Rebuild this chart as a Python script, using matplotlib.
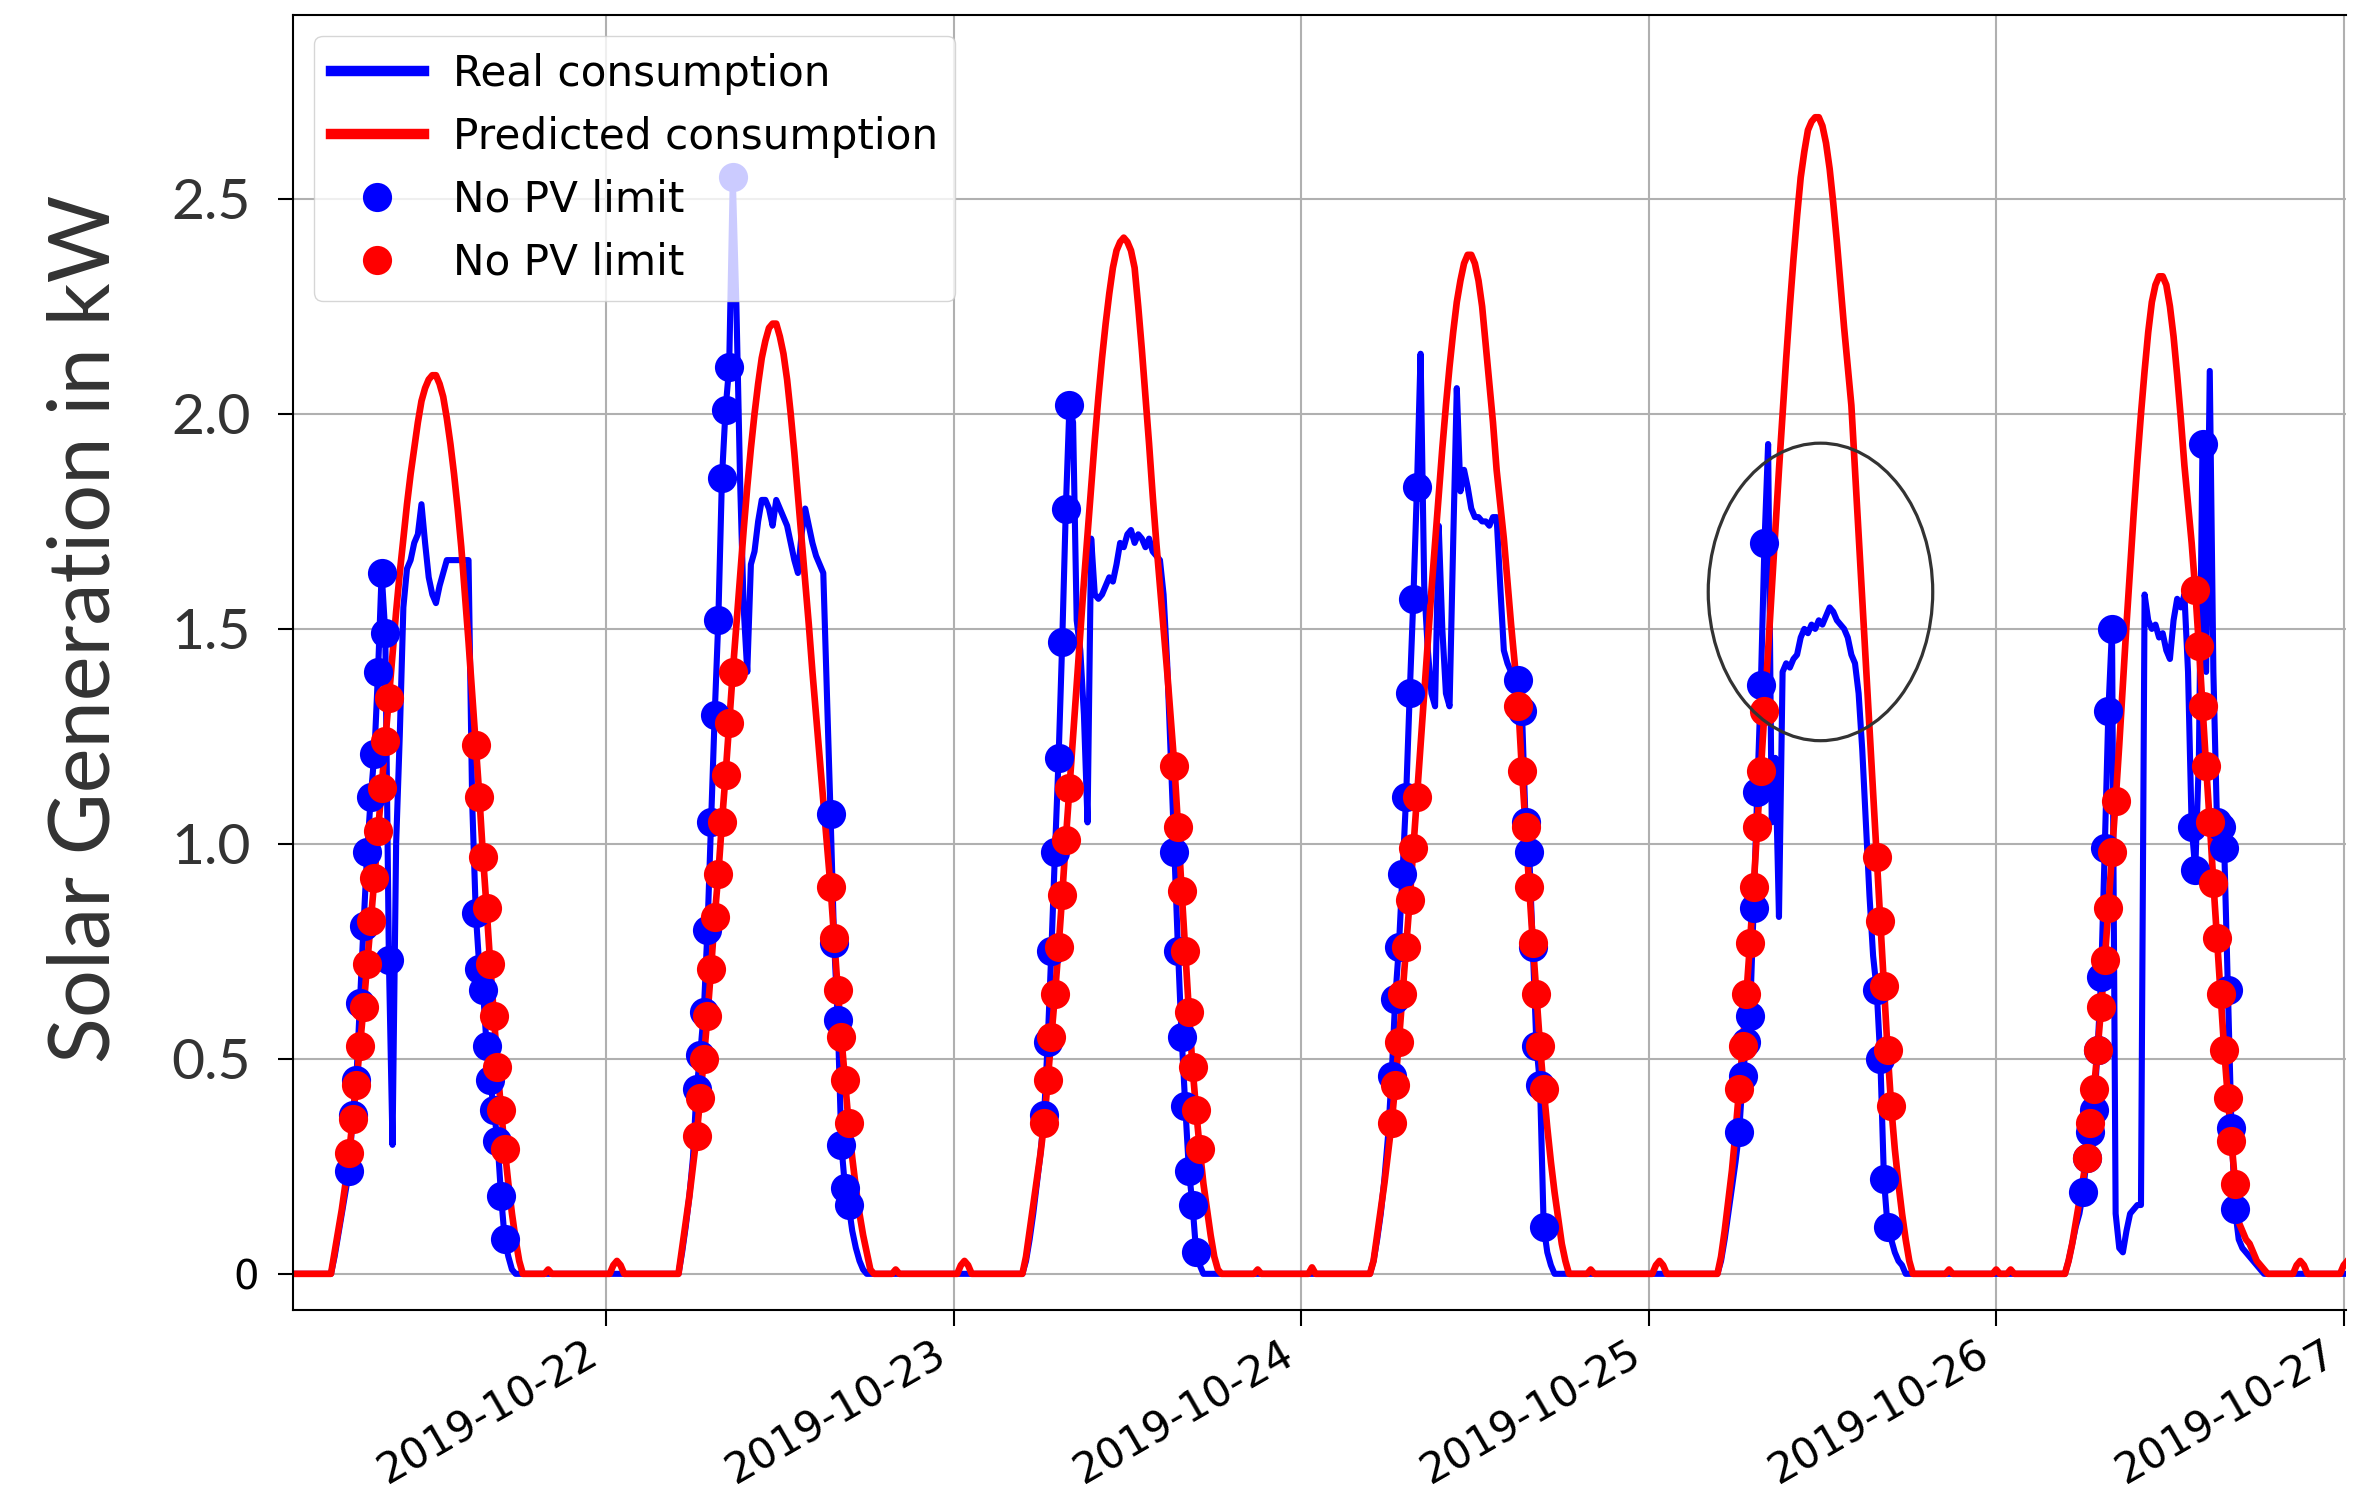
import pandas as pd
import numpy as np
import matplotlib
matplotlib.use('Agg')
import matplotlib.pyplot as plt
import matplotlib.dates as mdates
from matplotlib.patches import Ellipse

# ---- data (kW, 15 min steps starting 04:45 each day) ----
days = ['2019-10-21', '2019-10-22', '2019-10-23', '2019-10-24', '2019-10-25', '2019-10-26']
first_sample = '04:45'

real_21 = [0.00,
           0.00, 0.04, 0.09, 0.14,   # 05h
           0.19, 0.24, 0.37, 0.45,   # 06h
           0.63, 0.81, 0.98, 1.11,   # 07h
           1.21, 1.40, 1.63, 1.49,   # 08h
           0.73, 0.30, 1.00, 1.25,   # 09h
           1.55, 1.64, 1.66, 1.70,   # 10h
           1.72, 1.79, 1.70, 1.62,   # 11h
           1.58, 1.56, 1.60, 1.63,   # 12h
           1.66, 1.66, 1.66, 1.66,   # 13h
           1.66, 1.66, 1.66, 1.10,   # 14h
           0.84, 0.71, 0.66, 0.53,   # 15h
           0.45, 0.38, 0.31, 0.18,   # 16h
           0.08, 0.04, 0.01, 0.00,   # 17h
           0.00, 0.00, 0.00, 0.00]   # 18h
pred_21 = [0.00,
           0.00, 0.05, 0.10, 0.15,
           0.21, 0.28, 0.36, 0.44,
           0.53, 0.62, 0.72, 0.82,
           0.92, 1.03, 1.13, 1.24,
           1.34, 1.44, 1.54, 1.63,
           1.71, 1.79, 1.86, 1.92,
           1.98, 2.03, 2.06, 2.08,
           2.09, 2.09, 2.07, 2.04,
           1.99, 1.93, 1.86, 1.78,
           1.69, 1.58, 1.47, 1.35,
           1.23, 1.11, 0.97, 0.85,
           0.72, 0.60, 0.48, 0.38,
           0.29, 0.21, 0.14, 0.08,
           0.03, 0.00, 0.00, 0.00]

real_22 = [0.00,
           0.00, 0.05, 0.11, 0.18,
           0.27, 0.43, 0.51, 0.61,
           0.80, 1.05, 1.30, 1.52,
           1.85, 2.01, 2.11, 2.55,
           2.25, 1.85, 1.55, 1.40,
           1.65, 1.68, 1.75, 1.80,
           1.80, 1.78, 1.74, 1.80,
           1.78, 1.76, 1.74, 1.70,
           1.66, 1.63, 1.72, 1.78,
           1.74, 1.70, 1.67, 1.65,
           1.63, 1.35, 1.07, 0.77,
           0.59, 0.30, 0.20, 0.16,
           0.10, 0.06, 0.03, 0.01,
           0.00, 0.00, 0.00, 0.00]
pred_22 = [0.00,
           0.00, 0.06, 0.12, 0.18,
           0.25, 0.32, 0.41, 0.50,
           0.60, 0.71, 0.83, 0.93,
           1.05, 1.16, 1.28, 1.40,
           1.51, 1.62, 1.73, 1.83,
           1.92, 2.00, 2.07, 2.13,
           2.17, 2.20, 2.21, 2.21,
           2.18, 2.14, 2.08, 2.00,
           1.91, 1.81, 1.71, 1.61,
           1.51, 1.40, 1.30, 1.20,
           1.10, 1.00, 0.90, 0.78,
           0.66, 0.55, 0.45, 0.35,
           0.27, 0.20, 0.14, 0.09,
           0.05, 0.01, 0.00, 0.00]

real_23 = [0.00,
           0.03, 0.08, 0.14, 0.21,
           0.28, 0.37, 0.54, 0.75,
           0.98, 1.20, 1.47, 1.78,
           2.02, 1.98, 1.52, 1.45,
           1.30, 1.05, 1.71, 1.58,
           1.57, 1.58, 1.60, 1.62,
           1.61, 1.65, 1.70, 1.69,
           1.72, 1.73, 1.70, 1.72,
           1.71, 1.69, 1.71, 1.68,
           1.67, 1.66, 1.58, 1.42,
           1.20, 0.98, 0.75, 0.55,
           0.39, 0.24, 0.16, 0.05,
           0.02, 0.00, 0.00, 0.00,
           0.00, 0.00, 0.00, 0.00]
pred_23 = [0.00,
           0.04, 0.10, 0.16, 0.22,
           0.28, 0.35, 0.45, 0.55,
           0.65, 0.76, 0.88, 1.01,
           1.13, 1.25, 1.37, 1.49,
           1.61, 1.72, 1.83, 1.94,
           2.04, 2.13, 2.21, 2.28,
           2.34, 2.38, 2.40, 2.41,
           2.40, 2.38, 2.34, 2.25,
           2.15, 2.04, 1.93, 1.81,
           1.70, 1.60, 1.50, 1.40,
           1.29, 1.18, 1.04, 0.89,
           0.75, 0.61, 0.48, 0.38,
           0.29, 0.21, 0.15, 0.09,
           0.04, 0.01, 0.00, 0.00]

real_24 = [0.00,
           0.03, 0.08, 0.14, 0.22,
           0.32, 0.46, 0.64, 0.76,
           0.93, 1.11, 1.35, 1.57,
           1.83, 2.14, 1.60, 1.45,
           1.35, 1.32, 1.74, 1.50,
           1.35, 1.32, 1.70, 2.06,
           1.82, 1.87, 1.83, 1.78,
           1.76, 1.76, 1.75, 1.75,
           1.74, 1.76, 1.76, 1.60,
           1.45, 1.42, 1.40, 1.39,
           1.38, 1.31, 1.05, 0.98,
           0.76, 0.53, 0.44, 0.11,
           0.05, 0.02, 0.00, 0.00,
           0.00, 0.00, 0.00, 0.00]
pred_24 = [0.00,
           0.03, 0.09, 0.15, 0.21,
           0.28, 0.35, 0.44, 0.54,
           0.65, 0.76, 0.87, 0.99,
           1.11, 1.23, 1.35, 1.47,
           1.59, 1.70, 1.81, 1.92,
           2.02, 2.11, 2.19, 2.26,
           2.31, 2.35, 2.37, 2.37,
           2.35, 2.31, 2.25, 2.16,
           2.07, 1.98, 1.87, 1.79,
           1.71, 1.61, 1.51, 1.42,
           1.32, 1.17, 1.04, 0.90,
           0.77, 0.65, 0.53, 0.43,
           0.34, 0.26, 0.19, 0.13,
           0.07, 0.03, 0.00, 0.00]

real_25 = [0.00,
           0.03, 0.08, 0.14, 0.20,
           0.26, 0.33, 0.46, 0.54,
           0.60, 0.85, 1.12, 1.37,
           1.70, 1.93, 1.05, 1.20,
           0.83, 1.40, 1.42, 1.41,
           1.43, 1.44, 1.48, 1.50,
           1.49, 1.51, 1.50, 1.52,
           1.51, 1.53, 1.55, 1.54,
           1.52, 1.51, 1.50, 1.48,
           1.44, 1.42, 1.35, 1.22,
           1.05, 0.88, 0.74, 0.66,
           0.50, 0.22, 0.11, 0.08,
           0.05, 0.03, 0.02, 0.00,
           0.00, 0.00, 0.00, 0.00]
pred_25 = [0.00,
           0.04, 0.10, 0.17, 0.24,
           0.33, 0.43, 0.53, 0.65,
           0.77, 0.90, 1.04, 1.17,
           1.31, 1.45, 1.59, 1.73,
           1.87, 2.00, 2.13, 2.25,
           2.36, 2.46, 2.55, 2.61,
           2.66, 2.68, 2.69, 2.69,
           2.67, 2.63, 2.57, 2.49,
           2.40, 2.30, 2.20, 2.11,
           2.02, 1.87, 1.72, 1.57,
           1.42, 1.27, 1.12, 0.97,
           0.82, 0.67, 0.52, 0.39,
           0.29, 0.21, 0.14, 0.08,
           0.03, 0.00, 0.00, 0.00]

real_26 = [0.00,
           0.03, 0.07, 0.11, 0.14,
           0.19, 0.27, 0.33, 0.38,
           0.52, 0.69, 0.99, 1.31,
           1.50, 0.14, 0.06, 0.05,
           0.10, 0.14, 0.15, 0.16,
           0.16, 1.58, 1.52, 1.50,
           1.51, 1.48, 1.49, 1.45,
           1.43, 1.52, 1.57, 1.55,
           1.58, 1.40, 1.04, 0.94,
           1.20, 1.93, 1.40, 2.10,
           1.40, 1.05, 1.04, 0.99,
           0.66, 0.34, 0.15, 0.08,
           0.06, 0.05, 0.04, 0.03,
           0.02, 0.01, 0.00, 0.00]
pred_26 = [0.00,
           0.03, 0.07, 0.12, 0.17,
           0.22, 0.27, 0.35, 0.43,
           0.52, 0.62, 0.73, 0.85,
           0.98, 1.10, 1.23, 1.37,
           1.51, 1.64, 1.77, 1.89,
           2.00, 2.10, 2.19, 2.26,
           2.30, 2.32, 2.32, 2.30,
           2.25, 2.18, 2.09, 1.99,
           1.88, 1.79, 1.70, 1.59,
           1.46, 1.32, 1.18, 1.05,
           0.91, 0.78, 0.65, 0.52,
           0.41, 0.31, 0.21, 0.12,
           0.10, 0.08, 0.07, 0.05,
           0.03, 0.02, 0.01, 0.00]

real_days = [real_21, real_22, real_23, real_24, real_25, real_26]
pred_days = [pred_21, pred_22, pred_23, pred_24, pred_25, pred_26]

# small night-time wiggles of the prediction
pred_night = [('2019-10-21 20:00', 0.01),
              ('2019-10-22 00:30', 0.02), ('2019-10-22 00:45', 0.03), ('2019-10-22 01:00', 0.02),
              ('2019-10-22 20:00', 0.01),
              ('2019-10-23 00:30', 0.02), ('2019-10-23 00:45', 0.03), ('2019-10-23 01:00', 0.02),
              ('2019-10-23 21:00', 0.01), ('2019-10-24 00:45', 0.015),
              ('2019-10-24 20:00', 0.01),
              ('2019-10-25 00:30', 0.02), ('2019-10-25 00:45', 0.03), ('2019-10-25 01:00', 0.02),
              ('2019-10-25 20:45', 0.01), ('2019-10-26 00:00', 0.01), ('2019-10-26 01:00', 0.01),
              ('2019-10-26 20:45', 0.02), ('2019-10-26 21:00', 0.03), ('2019-10-26 21:15', 0.02),
              ('2019-10-27 00:00', 0.02), ('2019-10-27 00:15', 0.03)]

# time windows (per day) whose samples are marked as "No PV limit"
real_marks = [[('06:15', '09:00'), ('15:00', '17:00')],
              [('06:15', '08:45'), ('15:30', '16:45')],
              [('06:15', '08:00'), ('15:15', '16:45')],
              [('06:15', '08:00'), ('15:00', '16:45')],
              [('06:15', '08:00'), ('15:45', '16:30')],
              [('06:00', '08:00'), ('13:30', '13:45'), ('14:15', '14:15'), ('15:15', '16:30')]]
pred_marks = [[('06:15', '09:00'), ('15:00', '17:00')],
              [('06:15', '08:45'), ('15:30', '16:45')],
              [('06:15', '08:00'), ('15:15', '17:00')],
              [('06:15', '08:00'), ('15:00', '16:45')],
              [('06:15', '08:00'), ('15:45', '16:45')],
              [('06:15', '08:15'), ('13:45', '16:30')]]

ytick_vals = [0, 0.5, 1.0, 1.5, 2.0, 2.5]
ytick_labels = ['0', '0.5', '1.0', '1.5', '2.0', '2.5']


def build(day_lists, night=()):
    idx = pd.date_range('2019-10-21 02:15', '2019-10-27 00:15', freq='15min')
    s = pd.Series(0.0, index=idx)
    for day, vals in zip(days, day_lists):
        t = pd.date_range(day + ' ' + first_sample, periods=len(vals), freq='15min')
        s.loc[t] = vals
    for t, v in night:
        s.loc[pd.Timestamp(t)] = v
    return s


def marked(s, marks):
    parts = []
    for day, wins in zip(days, marks):
        for a, b in wins:
            parts.append(s.loc[day + ' ' + a: day + ' ' + b])
    return pd.concat(parts)


real = build(real_days)
pred = build(pred_days, pred_night)
real_pts = marked(real, real_marks)
pred_pts = marked(pred, pred_marks)

fig = plt.figure(figsize=(23.77, 14.94), dpi=100)
ax = fig.add_axes([0.1234, 0.1232, 0.8634, 0.8668])

ax.plot(real.index, real.values, color='blue', lw=4.4, label='Real consumption', zorder=2)
ax.plot(pred.index, pred.values, color='red', lw=4.8, label='Predicted consumption', zorder=2.1)
ax.plot(real_pts.index, real_pts.values, 'o', color='blue', ms=21, mew=0, label='No PV limit', zorder=3)
ax.plot(pred_pts.index, pred_pts.values, 'o', color='red', ms=21, mew=0, label='No PV limit', zorder=3.1)

# circled area
ax.add_patch(Ellipse((mdates.date2num(pd.Timestamp('2019-10-25 11:52')), 1.586), width=0.646, height=0.692,
                     fill=False, edgecolor='#333333', lw=2.3, zorder=4))

ax.set_xlim(pd.Timestamp('2019-10-21 02:24'), pd.Timestamp('2019-10-27 00:08'))
ax.set_ylim(-0.084, 2.928)

ax.xaxis.set_major_locator(mdates.DayLocator())
ax.xaxis.set_major_formatter(mdates.DateFormatter('%Y-%m-%d'))
ax.tick_params(axis='x', length=11.5, width=1.5, pad=5, labelsize=30.5)
plt.setp(ax.get_xticklabels(), rotation=30, ha='right')

ax.set_yticks(ytick_vals)
ylabs = ax.set_yticklabels(ytick_labels, fontfamily='Lato', fontsize=41, color='#333333')
ax.tick_params(axis='y', length=10.8, width=1.5, pad=20)
ylabs[0].set_fontfamily('DejaVu Sans')
ylabs[0].set_fontsize(29)
ylabs[0].set_color('black')
ylabs[0].set_x(0.004)

ax.set_ylabel('Solar Generation in kW', fontfamily='Lato', fontsize=61, color='#333333', va='center')
ax.yaxis.set_label_coords(-0.1015, 0.526)

ax.grid(True, color='#b0b0b0', lw=1.5)
ax.set_axisbelow(True)
for sp in ['left', 'top', 'bottom']:
    ax.spines[sp].set_linewidth(1.5)
ax.spines['right'].set_visible(False)

leg = ax.legend(loc='upper left', fontsize=30.3, handlelength=2.2, handletextpad=0.7,
                labelspacing=0.5, borderpad=0.4, framealpha=0.8, edgecolor='0.8')
for ln in leg.get_lines()[:2]:
    ln.set_linewidth(7.5)

fig.savefig('out.png', dpi=100)
